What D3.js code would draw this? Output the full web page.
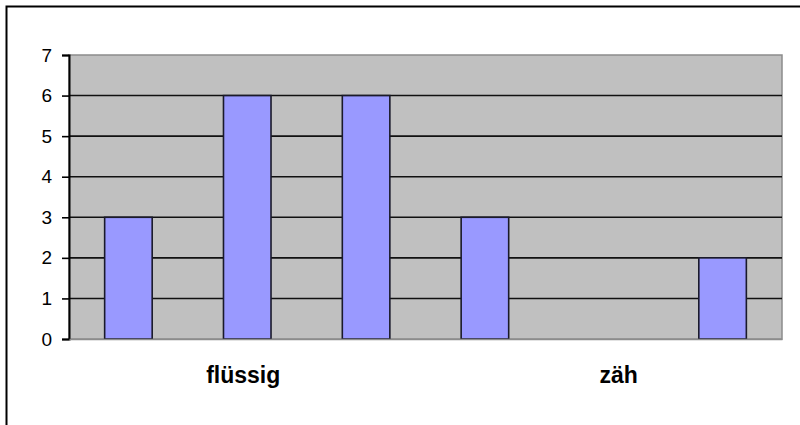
<!DOCTYPE html>
<html>
<head>
<meta charset="utf-8">
<script src="https://cdn.jsdelivr.net/npm/d3@7"></script>
<style>
  html, body { margin: 0; padding: 0; background: #fff; }
  svg { display: block; }
</style>
</head>
<body>
<svg id="chart" width="800" height="425"></svg>
<script>
// ---- data ----
const categories = ["c1", "c2", "c3", "c4", "c5", "c6"];
const values = [3, 6, 6, 3, 0, 2];
const categoryLabels = ["", "flüssig", "", "", "zäh", ""];
const yTicks = [0, 1, 2, 3, 4, 5, 6, 7];

// ---- layout ----
const W = 800, H = 425;
const plot = { left: 69, right: 782, top: 55, bottom: 339 };
const labelShift = [0, -4, 0, 0, 15, 0];

const svg = d3.select("#chart");

// outer chart frame (extends beyond right/bottom edges)
svg.append("rect")
  .attr("x", 6.5).attr("y", 6.5)
  .attr("width", 900).attr("height", 600)
  .attr("fill", "#fff")
  .attr("stroke", "#000").attr("stroke-width", 2);

const x = d3.scaleBand().domain(categories)
  .range([plot.left, plot.right])
  .paddingInner(0.6).paddingOuter(0.3);
const xc = d3.scaleBand().domain(categories).range([plot.left, plot.right]);
const y = d3.scaleLinear().domain([0, 7]).range([plot.bottom, plot.top]);

// plot area
svg.append("rect")
  .attr("x", plot.left).attr("y", plot.top)
  .attr("width", plot.right - plot.left).attr("height", plot.bottom - plot.top)
  .attr("fill", "#C0C0C0")
  .attr("stroke", "#8c8c8c").attr("stroke-width", 1.5);

// gridlines
svg.append("g").selectAll("line")
  .data(yTicks.filter(d => d > 0 && d < 7))
  .join("line")
  .attr("x1", plot.left).attr("x2", plot.right)
  .attr("y1", d => y(d)).attr("y2", d => y(d))
  .attr("stroke", "#111").attr("stroke-width", 1.6);

// bars
svg.append("g").selectAll("rect")
  .data(values.map((v, i) => ({ c: categories[i], v })))
  .join("rect")
  .attr("x", d => x(d.c))
  .attr("y", d => y(d.v))
  .attr("width", x.bandwidth())
  .attr("height", d => y(0) - y(d.v))
  .attr("fill", "#9999FF")
  .attr("stroke", "#1a1a2a").attr("stroke-width", 1.6)
  .style("display", d => d.v > 0 ? null : "none");

// y axis
const yAxis = d3.axisLeft(y).tickValues(yTicks).tickSize(7).tickPadding(10)
  .tickFormat(d3.format("d"));
const gy = svg.append("g")
  .attr("transform", `translate(${plot.left},0)`)
  .call(yAxis);
gy.select(".domain").attr("stroke", "#000").attr("stroke-width", 2);
gy.selectAll(".tick line").attr("stroke", "#000").attr("stroke-width", 1.6);
gy.selectAll(".tick text")
  .attr("font-family", "Liberation Sans, Arial, sans-serif")
  .attr("font-size", 19)
  .attr("fill", "#000");

// x axis (labels only)
const xAxis = d3.axisBottom(xc).tickSize(0).tickPadding(28)
  .tickFormat((d, i) => categoryLabels[i]);
const gx = svg.append("g")
  .attr("transform", `translate(0,${plot.bottom})`)
  .call(xAxis);
gx.select(".domain").attr("stroke", "#8c8c8c").attr("stroke-width", 1.5);
gx.selectAll(".tick text")
  .attr("font-family", "Liberation Sans, Arial, sans-serif")
  .attr("font-size", 23)
  .attr("font-weight", "bold")
  .attr("fill", "#000")
  .attr("dx", (d, i) => labelShift[i]);
</script>
</body>
</html>
